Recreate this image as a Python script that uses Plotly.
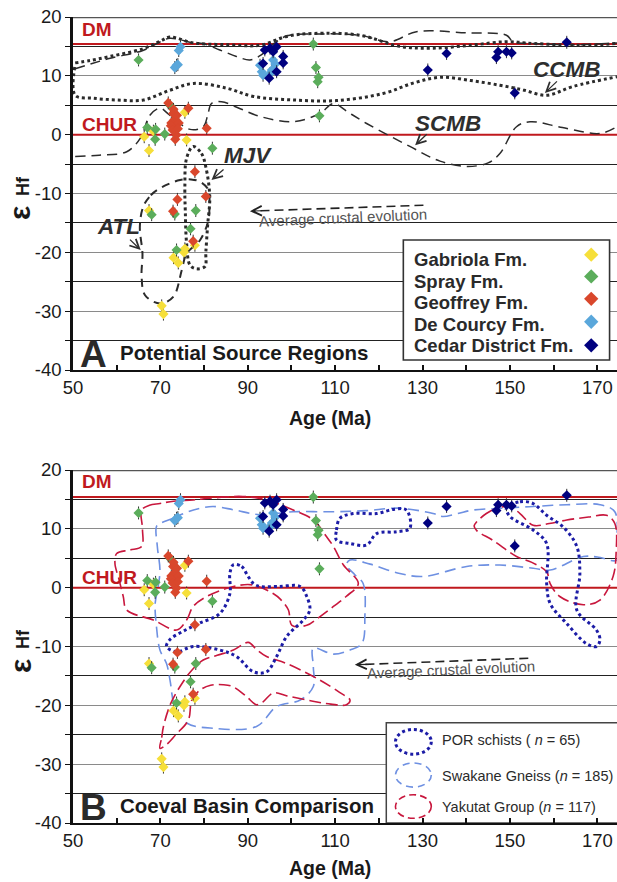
import plotly.graph_objects as go

FONT = "Liberation Sans, Arial, Helvetica, sans-serif"

# ----------------------------- data -----------------------------
gabriola_age = [75.6, 68.4, 66.3, 67.4, 76.0, 67.4, 77.9, 73.0, 74.1, 75.4, 75.6, 70.3, 70.7]
gabriola_eps = [3.8, 0.6, -0.35, -2.7, -0.9, -12.9, -18.8, -20.9, -21.8, -20.0, -19.4, -29.1, -30.5]

spray_age = [65.0, 105.0, 105.6, 106.2, 106.0, 106.4, 72.3, 67.0, 68.9, 68.8, 71.0, 81.9,
             68.0, 78.1, 73.3, 76.9, 73.7]
spray_eps = [12.7, 15.4, 11.4, 9.75, 9.0, 3.2, 4.9, 1.2, 0.9, -0.8, 0.1, -2.3,
             -13.6, -12.9, -13.5, -16.0, -19.6]

geoffrey_age = [71.8, 72.9, 73.2, 72.5, 73.8, 73.5, 73.7, 73.4, 76.4, 80.6, 72.4, 74.2,
                72.8, 74.0, 73.0, 77.9, 80.4, 73.9, 72.9, 77.5]
geoffrey_eps = [5.4, 3.6, 2.5, 2.0, 3.3, 1.4, -0.05, -0.8, 4.5, 1.1, 1.5, 2.0,
                0.8, 1.0, 4.3, -6.3, -10.5, -11.0, -13.0, -18.1]

decourcy_age = [74.6, 74.2, 73.7, 73.3, 74.0, 92.8, 93.2, 93.5, 95.8, 95.5, 95.1, 96.3]
decourcy_eps = [14.95, 14.3, 11.8, 11.4, 11.9, 11.8, 10.7, 10.1, 12.7, 11.0, 10.4, 12.0]

cedar_age = [93.9, 95.1, 96.6, 95.8, 98.1, 98.1, 93.5, 96.6, 94.9, 135.5, 131.2, 147.3,
             146.9, 149.2, 150.4, 151.1, 163.0]
cedar_eps = [14.4, 14.7, 14.95, 14.1, 13.3, 12.2, 12.1, 10.7, 9.6, 13.8, 11.0, 14.1,
             13.1, 14.1, 13.9, 7.1, 15.7]

eps_error = 1.1  # typical uncertainty drawn as vertical bars

formation_names = ["Gabriola Fm.", "Spray Fm.", "Geoffrey Fm.", "De Courcy Fm.", "Cedar District Fm."]

# reference evolution lines (epsilon Hf)
dm_eps = 15.4
chur_eps = 0.0

# ---- Panel A outlines: potential source regions ----
ccmb_upper_age = [50.5, 53.9, 58.5, 66.0, 70.0, 72.2, 77.5, 85.0, 92.8, 98.9, 105.0, 115.7,
                  124.8, 132.4, 141.0, 149.2, 155.3, 166.7, 174.5]
ccmb_upper_eps = [12.2, 12.6, 13.3, 14.6, 15.9, 16.6, 15.6, 15.3, 15.2, 16.7, 17.2, 16.9,
                  15.0, 14.7, 15.2, 15.8, 15.5, 15.2, 15.5]
ccmb_lower_age = [50.4, 50.5, 54.6, 60.0, 66.1, 72.0, 77.5, 85.2, 91.3, 100.4, 110.3, 121.0,
                  128.0, 134.0, 141.0, 147.7, 153.0, 158.4, 164.5, 174.5]
ccmb_lower_eps = [11.5, 6.7, 6.2, 5.9, 5.9, 7.5, 8.7, 7.9, 6.5, 5.9, 5.8, 7.0,
                  8.8, 9.75, 9.2, 8.4, 7.6, 6.7, 8.2, 9.85]

scmb_upper_age = [50.5, 54.0, 58.5, 66.0, 70.0, 72.2, 77.5, 79.7, 83.6, 87.4, 90.5, 93.0,
                  96.0, 99.0, 105.0, 115.7, 122.5, 128.6, 140.0, 149.2, 150.7, 155.0, 166.0, 174.5]
scmb_upper_eps = [11.2, 12.0, 13.0, 14.3, 15.8, 16.4, 15.6, 15.5, 14.4, 13.3, 12.7, 13.5,
                  15.5, 16.8, 17.1, 16.9, 15.8, 17.5, 17.3, 16.9, 15.8, 15.5, 15.3, 15.6]
scmb_lower_age = [50.5, 56.0, 62.3, 65.5, 67.6, 69.9, 72.0, 76.8, 79.8, 80.8, 81.7, 84.0,
                  88.0, 92.8, 100.4, 106.5, 109.6, 113.0, 117.2, 127.1, 134.0, 140.1, 145.0,
                  147.7, 151.5, 154.6, 162.0, 170.6, 174.5]
scmb_lower_eps = [-3.7, -3.5, -2.9, -0.5, 3.3, 4.5, 3.4, 0.9, 1.35, 3.2, 5.3, 5.6,
                  4.5, 3.1, 2.2, 3.6, 5.3, 3.8, 1.9, -2.0, -4.5, -5.4, -4.8,
                  -3.2, 1.35, 2.2, 1.2, 0.2, 1.35]

mjv_age = [77.5, 79.4, 80.4, 81.3, 80.8, 80.4, 80.2, 78.3, 76.8, 76.0, 75.7, 75.6, 76.0, 77.5]
mjv_eps = [-2.0, -3.2, -5.5, -10.5, -15.5, -20.0, -22.4, -22.8, -22.2, -18.5, -13.0, -9.0, -4.0, -2.0]

atl_age = [66.1, 67.8, 69.9, 72.5, 74.5, 77.0, 79.1, 81.0, 81.2, 81.0, 79.1, 76.0, 74.9, 73.0,
           69.9, 66.5, 65.7, 65.9, 65.3, 66.1]
atl_eps = [-12.2, -10.3, -9.1, -8.2, -7.7, -7.6, -8.0, -9.4, -12.0, -14.5, -17.9, -20.2, -23.0,
           -27.5, -28.7, -27.3, -24.1, -20.2, -15.6, -12.2]

# ---- Panel B outlines: coeval basins ----
por_a_age = [86.7, 88.6, 90.0, 91.3, 92.8, 97.0, 102.0, 103.5, 104.2, 102.7, 98.9, 96.6, 94.3,
             91.3, 87.4, 83.6, 77.5, 73.7, 71.4, 72.2, 75.5, 79.1, 83.6, 85.9, 85.9, 86.7]
por_a_eps = [3.9, 3.6, 2.0, 0.7, 0.2, 0.2, 0.2, -1.5, -3.8, -5.5, -8.3, -11.7, -14.3,
             -14.3, -11.7, -10.6, -10.0, -10.9, -10.0, -8.8, -7.3, -6.0, -4.4, -1.0, 2.4, 3.9]
por_b_age = [110.3, 110.3, 111.1, 114.1, 119.5, 123.3, 126.3, 127.1, 124.1, 119.5, 117.2, 113.4, 110.3]
por_b_eps = [8.1, 9.8, 11.8, 12.6, 12.6, 13.3, 13.2, 10.1, 9.5, 9.2, 7.25, 7.5, 8.1]
por_c_age = [149.2, 152.3, 155.3, 158.4, 162.2, 165.3, 166.0, 165.3, 169.8, 170.6, 169.8, 167.5,
             163.0, 159.2, 158.4, 158.4, 155.3, 150.0, 149.2]
por_c_eps = [13.5, 14.6, 14.3, 12.3, 10.3, 7.0, 2.4, -3.8, -7.2, -8.9, -10.0, -9.5,
             -6.1, -2.7, 0.7, 7.5, 9.8, 12.1, 13.5]

swk_age = [69.9, 72.9, 76.0, 79.1, 82.1, 87.0, 92.8, 100.4, 109.6, 117.0, 124.8, 132.4, 134.6,
           138.0, 141.6, 148.0, 155.3, 163.0, 170.6, 174.0, 174.5, 174.5, 170.0, 166.8, 159.2,
           155.3, 147.7, 140.1, 130.2, 124.8, 118.0, 113.4, 112.6, 114.5, 116.4, 116.8, 116.1,
           113.4, 109.6, 105.0, 105.0, 105.0, 102.0, 96.6, 92.0, 82.1, 76.0, 73.3, 72.2, 71.4,
           69.9, 69.1, 68.8, 69.5, 69.9, 69.3, 69.1, 69.9]
swk_eps = [10.9, 11.8, 12.8, 13.5, 13.8, 13.2, 12.4, 12.9, 12.9, 13.1, 13.5, 12.6, 12.1,
           12.6, 13.2, 13.5, 13.8, 14.1, 14.1, 12.9, 8.0, 4.7, 5.2, 5.3, 3.0,
           3.3, 3.85, 3.6, 1.9, 2.4, 4.0, 4.7, 3.85, 2.2, 0.7, -4.9, -9.5,
           -10.6, -11.3, -10.3, -13.4, -16.8, -19.1, -20.2, -23.6, -23.9, -23.0, -20.2, -15.7, -12.9,
           -10.6, -6.6, -2.7, 0.2, 3.0, 7.0, 10.4, 10.9]

yak_a_age = [65.7, 67.5, 69.9, 73.0, 77.5, 81.3, 88.9, 94.3, 100.4, 105.0, 108.0, 109.6, 111.9,
             115.3, 112.5, 109.6, 106.0, 103.5, 100.1, 99.3, 97.5, 95.8, 91.3, 86.7, 80.6, 77.5,
             76.0, 73.7, 68.4, 62.3, 61.5, 60.5, 59.6, 60.0, 63.0, 65.7, 65.9, 65.7]
yak_a_eps = [13.2, 14.0, 14.3, 14.7, 14.9, 15.2, 15.5, 14.9, 13.2, 11.5, 8.7, 7.0, 3.85,
             0.7, -1.5, -3.2, -5.2, -6.4, -6.4, -3.8, -2.0, -1.0, 0.45, 0.2, -1.5, -3.2,
             -5.5, -7.2, -5.5, -3.8, -1.5, 1.5, 4.1, 5.8, 6.4, 7.0, 10.0, 13.2]
yak_b_age = [69.9, 70.3, 70.7, 72.3, 74.5, 77.0, 79.8, 83.0, 86.7, 90.1, 92.0, 94.3, 98.9, 106.5,
             111.0, 113.4, 112.6, 109.0, 104.9, 99.0, 95.8, 93.5, 92.0, 89.7, 86.5, 84.4, 81.5,
             79.1, 77.2, 76.4, 73.5, 71.5, 69.9]
yak_b_eps = [-27.3, -25.5, -23.6, -19.8, -16.8, -14.2, -12.3, -11.5, -10.6, -9.3, -10.5, -11.7,
             -12.9, -15.7, -17.8, -19.1, -19.9, -19.8, -19.3, -18.4, -17.9, -19.4, -19.9, -18.5,
             -16.8, -16.5, -16.6, -17.4, -19.1, -22.5, -25.0, -26.6, -27.3]
yak_c_age = [142.4, 144.6, 147.0, 150.0, 152.3, 155.3, 159.0, 163.0, 168.0, 172.1, 174.0, 174.3,
             173.6, 170.6, 166.8, 161.4, 159.2, 158.4, 155.0, 151.5, 146.2, 142.4, 141.8, 142.4]
yak_c_eps = [11.2, 12.6, 13.5, 13.8, 12.6, 10.6, 10.9, 11.5, 12.0, 12.3, 10.9, 6.0,
             1.9, -2.1, -2.9, -1.5, 0.7, 2.7, 4.3, 5.3, 8.0, 9.7, 10.5, 11.2]

basin_names = ["POR schists ( <i>n</i> = 65)", "Swakane Gneiss (<i>n</i> = 185)",
               "Yakutat Group (<i>n</i> = 117)"]

# ----------------------------- styling -----------------------------
X_RANGE = [50, 174.5]
Y_RANGE = [-40, 20]
COLORS = ["#F6DF3A", "#5BAD5B", "#D9472C", "#5AA7DB", "#00007E"]
RED = "#C0191E"
OUTLINE = "#2b2b2b"
POR_C = "#1C1CA6"
SWK_C = "#6E90E2"
YAK_C = "#C8173D"

fig = go.Figure()

formations = [
    (gabriola_age, gabriola_eps),
    (spray_age, spray_eps),
    (geoffrey_age, geoffrey_eps),
    (decourcy_age, decourcy_eps),
    (cedar_age, cedar_eps),
]


def line(ax, ay, xa, ya, color, width, dash, shape="spline"):
    fig.add_trace(go.Scatter(x=ax, y=ay, xaxis=xa, yaxis=ya, mode="lines",
                             line=dict(color=color, width=width, dash=dash, shape=shape,
                                       smoothing=1.0),
                             hoverinfo="skip", showlegend=False))


def reference_lines(xa, ya):
    for v in (dm_eps, chur_eps):
        fig.add_trace(go.Scatter(x=[X_RANGE[0], 180], y=[v, v], xaxis=xa, yaxis=ya,
                                 mode="lines", line=dict(color=RED, width=2),
                                 hoverinfo="skip", showlegend=False))


def points(xa, ya):
    for (ag, ep), col in zip(formations, COLORS):
        fig.add_trace(go.Scatter(
            x=ag, y=ep, xaxis=xa, yaxis=ya, mode="markers",
            marker=dict(symbol="diamond", size=7.8, color=col, line=dict(width=0)),
            error_y=dict(type="constant", value=eps_error, color="#333", thickness=1, width=0),
            hoverinfo="skip", showlegend=False))


# ---------------- panel A ----------------
reference_lines("x", "y")
line(ccmb_upper_age, ccmb_upper_eps, "x", "y", OUTLINE, 3, "dot")
line(ccmb_lower_age, ccmb_lower_eps, "x", "y", OUTLINE, 3, "dot")
line(scmb_upper_age, scmb_upper_eps, "x", "y", OUTLINE, 1.5, "10px,6px")
line(scmb_lower_age, scmb_lower_eps, "x", "y", OUTLINE, 1.5, "10px,6px")
line(mjv_age, mjv_eps, "x", "y", OUTLINE, 3, "dot")
line(atl_age, atl_eps, "x", "y", OUTLINE, 2, "8px,6px")
points("x", "y")

# ---------------- panel B ----------------
reference_lines("x2", "y2")
line(swk_age, swk_eps, "x2", "y2", SWK_C, 1.6, "11px,6px")
for a_, e_ in ((yak_a_age, yak_a_eps), (yak_b_age, yak_b_eps), (yak_c_age, yak_c_eps)):
    line(a_, e_, "x2", "y2", YAK_C, 1.6, "12px,5px")
for a_, e_ in ((por_a_age, por_a_eps), (por_b_age, por_b_eps), (por_c_age, por_c_eps)):
    line(a_, e_, "x2", "y2", POR_C, 3, "dot")
points("x2", "y2")

# average crustal evolution dashed arrows
avg_arrows = [("x", "y", 130.2, -12.0, 90.5, -13.0, 111.8, -14.0),
              ("x2", "y2", 154.2, -12.0, 114.5, -13.1, 136.4, -13.9)]
annotations = []
for xa, ya, tx, ty, hx, hy, cx, cy in avg_arrows:
    line([tx, hx + 0.6], [ty, hy + 0.015], xa, ya, "#222", 1.6, "9px,5px", shape="linear")
    annotations.append(dict(x=hx, y=hy, ax=hx + 3, ay=hy + 0.075, xref=xa, yref=ya,
                            axref=xa, ayref=ya, text="", showarrow=True, arrowhead=5,
                            arrowsize=1.6, arrowwidth=1.2, arrowcolor="#222"))
    annotations.append(dict(x=cx, y=cy, xref=xa, yref=ya, text="Average crustal evolution",
                            showarrow=False, textangle=-2.5,
                            font=dict(family=FONT, size=15, color="#555")))

# DM / CHUR labels
for xa, ya, dy in (("x", "y", 17.9), ("x2", "y2", 18.0)):
    annotations.append(dict(x=51.6, y=dy, xref=xa, yref=ya, text="<b>DM</b>", showarrow=False,
                            xanchor="left", font=dict(family=FONT, size=19, color=RED)))
    annotations.append(dict(x=51.6, y=1.8, xref=xa, yref=ya, text="<b>CHUR</b>",
                            showarrow=False, xanchor="left",
                            font=dict(family=FONT, size=19, color=RED)))

# region labels + arrows (panel A)
region_labels = [("CCMB", 163.0, 11.0, 161.1, 9.3, 158.0, 7.1),
                 ("SCMB", 135.9, 1.9, 131.3, 0.3, 128.3, -1.8),
                 ("MJV", 90.1, -3.5, 84.8, -5.7, 81.7, -7.7),
                 ("ATL", 60.4, -15.6, 62.7, -17.6, 65.5, -19.6)]
for name, lx, ly, tx, ty, hx, hy in region_labels:
    annotations.append(dict(x=lx, y=ly, xref="x", yref="y", text="<b><i>%s</i></b>" % name,
                            showarrow=False, font=dict(family=FONT, size=22.5, color="#2e2e2e")))
    annotations.append(dict(x=hx, y=hy, ax=tx, ay=ty, xref="x", yref="y", axref="x", ayref="y",
                            text="", showarrow=True, arrowhead=5, arrowsize=1.4,
                            arrowwidth=1.3, arrowcolor="#2e2e2e"))

# panel titles
for xa, ya, letter, title in (("x", "y", "A", "Potential Source Regions"),
                              ("x2", "y2", "B", "Coeval Basin Comparison")):
    annotations.append(dict(x=54.8, y=-37.3, xref=xa, yref=ya, text="<b>%s</b>" % letter,
                            showarrow=False, font=dict(family=FONT, size=37, color="#2a2a2a")))
    annotations.append(dict(x=60.3, y=-37.0, xref=xa, yref=ya, text="<b>%s</b>" % title,
                            showarrow=False, xanchor="left",
                            font=dict(family=FONT, size=20.5, color="#1a1a1a")))

shapes = []
# legend A
shapes.append(dict(type="rect", xref="x", yref="y", x0=125.6, x1=172.8, y0=-38.3, y1=-17.9,
                   fillcolor="white", line=dict(color="#333", width=1.6), layer="between"))
leg_text_y = [-21.3, -24.9, -28.5, -32.2, -35.8]
leg_mark_y = [-20.4, -24.1, -27.9, -31.8, -35.8]
for name, ty in zip(formation_names, leg_text_y):
    annotations.append(dict(x=127.6, y=ty, xref="x", yref="y", text="<b>%s</b>" % name,
                            showarrow=False, xanchor="left",
                            font=dict(family=FONT, size=18.5, color="#2a2a2a")))
fig.add_trace(go.Scatter(x=[168.6] * 5, y=leg_mark_y, xaxis="x", yaxis="y", mode="markers",
                         marker=dict(symbol="diamond", size=11, color=COLORS, line=dict(width=0)),
                         hoverinfo="skip", showlegend=False))

# legend B
shapes.append(dict(type="rect", xref="x2", yref="y2", x0=121.7, x1=176, y0=-40, y1=-22.95,
                   fillcolor="white", line=dict(color="#444", width=1.5), layer="between"))
leg_b = [(POR_C, 3, "dot", -28.3, -24.1, -25.9),
         (SWK_C, 1.6, "7px,5px", -33.9, -29.8, -32.0),
         (YAK_C, 1.6, "7px,4px", -39.2, -35.2, -37.2)]
for (col, w, dsh, y0, y1, ty), name in zip(leg_b, basin_names):
    shapes.append(dict(type="circle", xref="x2", yref="y2", x0=123.8, x1=132.0, y0=y0, y1=y1,
                       line=dict(color=col, width=w, dash=dsh), layer="above"))
    annotations.append(dict(x=134.0, y=ty, xref="x2", yref="y2", text=name, showarrow=False,
                            xanchor="left", font=dict(family=FONT, size=14.5, color="#2a2a2a")))

# top borders
for xa, ya in (("x", "y"), ("x2", "y2")):
    shapes.append(dict(type="line", xref=xa + " domain", yref=ya, x0=0, x1=1, y0=20, y1=20,
                       line=dict(color="#555", width=2.5), layer="above"))


# axis titles (paper coordinates)
def px_x(px):
    return (px - 73) / 544.0


def px_y(py):
    return (823 - py) / 806.0


for top in (17, 470):
    annotations.append(dict(x=px_x(20), y=px_y(top + 196), xref="paper", yref="paper",
                            xanchor="center", yanchor="middle",
                            text="<b>ε</b>", showarrow=False, textangle=-90,
                            font=dict(family=FONT, size=30, color="#1a1a1a")))
    annotations.append(dict(x=px_x(23), y=px_y(top + 169), xref="paper", yref="paper",
                            xanchor="center", yanchor="middle",
                            text="<b>Hf</b>", showarrow=False, textangle=-90,
                            font=dict(family=FONT, size=18, color="#1a1a1a")))
for py in (418, 868):
    annotations.append(dict(x=px_x(330), y=px_y(py), xref="paper", yref="paper",
                            xanchor="center", yanchor="middle",
                            text="<b>Age (Ma)</b>", showarrow=False,
                            font=dict(family=FONT, size=19.5, color="#1a1a1a")))

xticks = list(range(50, 180, 10))
xtext = [str(v) if (v - 50) % 20 == 0 else "" for v in xticks]
ymajor = list(range(-40, 21, 10))
ytext = [str(v) for v in ymajor]
yminor = list(range(-35, 20, 10))

xaxis_common = dict(range=X_RANGE, showgrid=False, zeroline=False, showline=True,
                    linecolor="#111", linewidth=2, ticks="inside", ticklen=5, tickwidth=1.5,
                    tickcolor="#111", tickmode="array", tickvals=xticks, ticktext=xtext,
                    tickfont=dict(family=FONT, size=18.5, color="#1a1a1a"), fixedrange=True)
yaxis_common = dict(range=Y_RANGE, showgrid=True, gridcolor="#8a8a8a", gridwidth=1.3,
                    zeroline=False, showline=True, linecolor="#111", linewidth=2.5,
                    ticks="outside", ticklen=5, tickwidth=1.3, tickcolor="#111",
                    tickmode="array", tickvals=ymajor, ticktext=ytext,
                    tickfont=dict(family=FONT, size=18.5, color="#1a1a1a"),
                    minor=dict(tickmode="array", tickvals=yminor, ticks="outside", ticklen=5,
                               tickwidth=1.3, tickcolor="#111", showgrid=True,
                               gridcolor="#222", gridwidth=1.1),
                    fixedrange=True)

fig.update_layout(
    width=617, height=882,
    margin=dict(l=73, r=0, t=17, b=59),
    paper_bgcolor="white", plot_bgcolor="white",
    showlegend=False,
    xaxis=dict(domain=[0, 1], anchor="y", **xaxis_common),
    yaxis=dict(domain=[px_y(370), 1], anchor="x", **yaxis_common),
    xaxis2=dict(domain=[0, 1], anchor="y2", **xaxis_common),
    yaxis2=dict(domain=[0, px_y(470)], anchor="x2", **yaxis_common),
    annotations=annotations,
    shapes=shapes,
    font=dict(family=FONT),
)

fig.write_html("out.html")
